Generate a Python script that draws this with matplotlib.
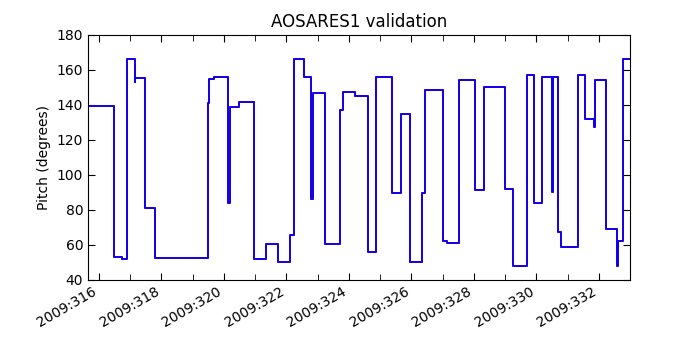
import matplotlib
matplotlib.use("Agg")
import matplotlib.pyplot as plt
from matplotlib.ticker import MultipleLocator, FuncFormatter

# day of year (2009) where pitch changes, and the pitch level from then on
change_day = [315.65, 316.48, 316.75, 316.91, 317.14, 317.17, 317.47, 317.81,
              319.48, 319.52, 319.68, 320.14, 320.20, 320.48, 320.96, 321.35,
              321.73, 322.13, 322.25, 322.56, 322.78, 322.86, 323.24, 323.73,
              323.82, 324.20, 324.62, 324.88, 325.38, 325.68, 325.95, 326.34,
              326.43, 327.01, 327.15, 327.54, 327.90, 328.05, 328.33, 329.00,
              329.24, 329.69, 329.93, 330.18, 330.51, 330.55, 330.69, 330.80,
              331.35, 331.57, 331.84, 331.87, 332.22, 332.57, 332.63, 332.79,
              333.00]
pitch_tlm = [139.5, 52.8, 52.0, 166.0, 153.3, 155.4, 81.2, 52.5,
             141.3, 155.0, 156.0, 84.0, 139.0, 141.5, 51.5, 60.3,
             50.3, 65.3, 166.3, 155.8, 86.3, 146.8, 60.5, 137.0,
             147.5, 145.0, 55.8, 156.0, 89.5, 135.0, 50.0, 89.8,
             148.3, 62.0, 61.0, 154.5, 154.2, 91.2, 150.3, 92.0,
             47.8, 157.2, 84.0, 156.0, 90.0, 156.0, 67.4, 58.8,
             157.0, 132.0, 127.5, 154.0, 68.7, 47.8, 62.0, 166.3,
             166.3]
pitch_model = list(pitch_tlm)

fig = plt.figure(figsize=(7, 3.5), dpi=100)
ax = fig.add_axes([0.1257, 0.2014, 0.7743, 0.6986])

ax.plot(change_day, pitch_model, color="red", lw=1.3, drawstyle="steps-post")
ax.plot(change_day, pitch_tlm, color="blue", lw=1.3, drawstyle="steps-post")

ax.set_xlim(315.65, 333.0)
ax.set_ylim(40, 180)
ax.yaxis.set_major_locator(MultipleLocator(20))
ax.xaxis.set_major_locator(MultipleLocator(2))
ax.xaxis.set_minor_locator(MultipleLocator(1))
ax.xaxis.set_major_formatter(FuncFormatter(lambda v, p: "2009:%03d" % int(round(v))))
ax.tick_params(which="both", direction="in", top=True, right=True, labelsize=10)
ax.tick_params(which="major", length=5)
ax.tick_params(which="minor", length=4)
for lbl in ax.get_xticklabels():
    lbl.set_rotation(30)
    lbl.set_ha("right")

ax.set_title("AOSARES1 validation", fontsize=12)
ax.set_ylabel("Pitch (degrees)", fontsize=10)

fig.savefig("out.png", dpi=100)
